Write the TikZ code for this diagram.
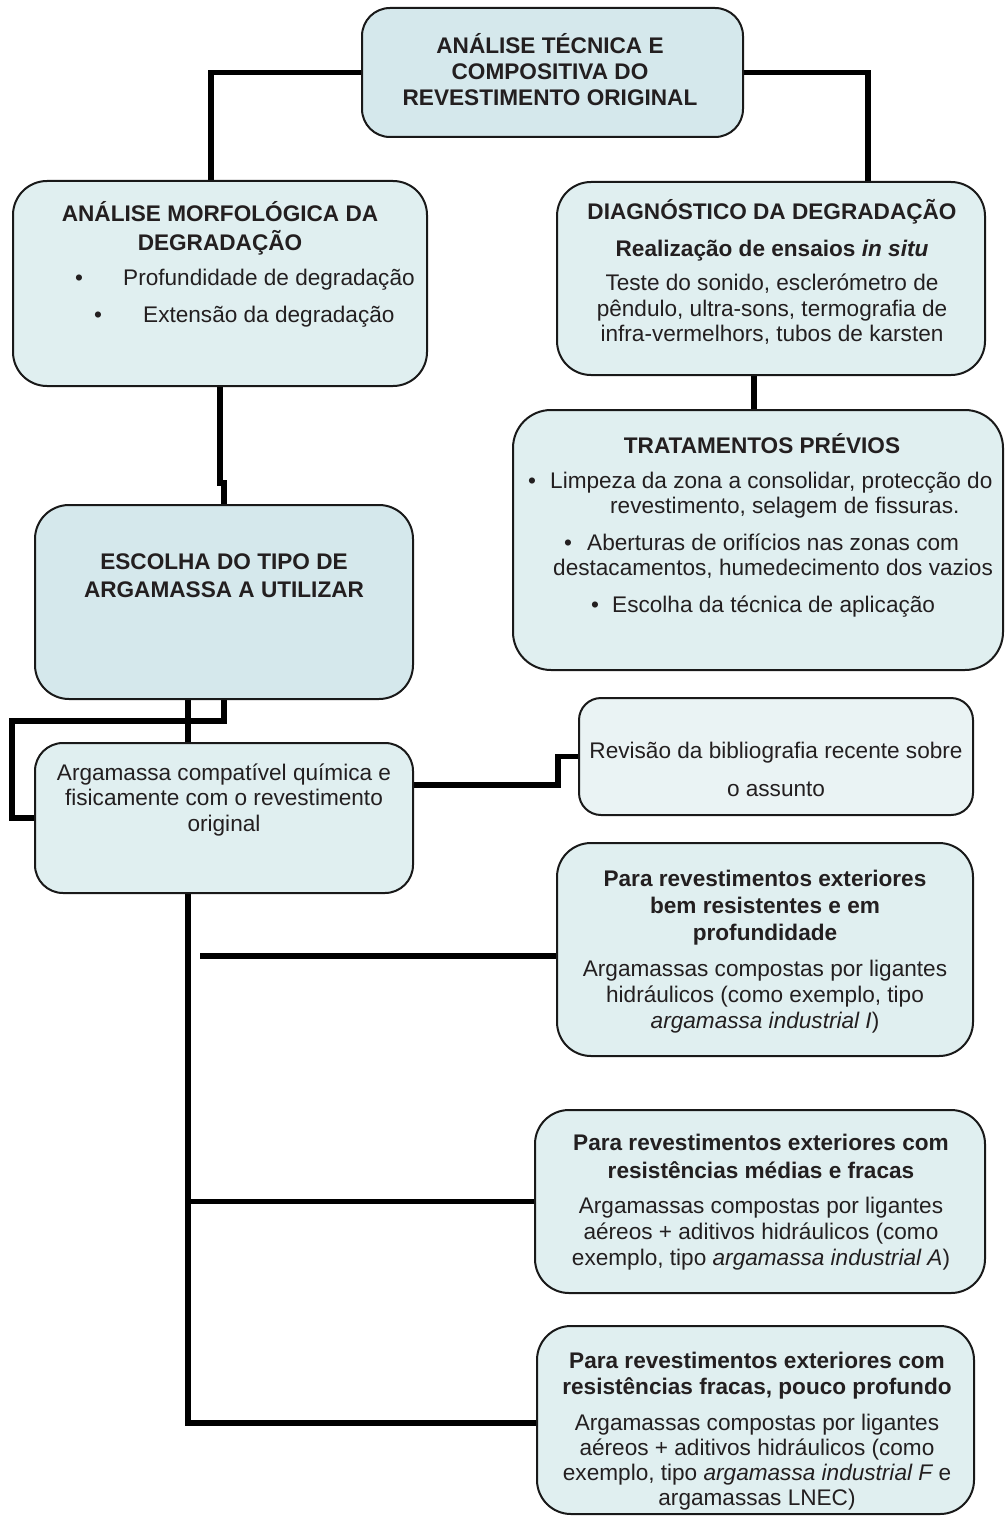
\documentclass[tikz,border=0pt]{standalone}
\usepackage{fontspec}
\setmainfont{Liberation Sans}
\usetikzlibrary{calc}
\definecolor{boxdark}{RGB}{213,232,236}
\definecolor{boxmid}{RGB}{224,239,240}
\definecolor{boxlight}{RGB}{234,243,244}
\definecolor{ink}{RGB}{35,31,32}
\definecolor{edge}{RGB}{25,25,25}

\begin{document}
\begin{tikzpicture}[x=1pt,y=-1pt,
  box/.style={draw=edge, line width=2pt, rounded corners=#1, fill=boxmid,
              inner sep=0pt, outer sep=0pt},
  box/.default=32pt,
  link/.style={line width=5.8pt, black},
  txt/.style={inner sep=0pt, anchor=base, text=ink,
              font=\fontsize{22.6}{26}\selectfont},
  lft/.style={txt, anchor=base west}
]
\fill[white] (0,0) rectangle (1004,1517);
\useasboundingbox (0,0) rectangle (1004,1517);

% ---------- boxes (positions only) ----------
\path
  (552.5,72.5)  coordinate (c-top)
  (220,283.5)   coordinate (c-morf)
  (771,278.5)   coordinate (c-diag)
  (758,540)     coordinate (c-trat)
  (224,602)     coordinate (c-esc)
  (224,818)     coordinate (c-arg)
  (776,756.5)   coordinate (c-rev)
  (765,949.5)   coordinate (c-p1)
  (760,1201.5)  coordinate (c-p2)
  (755.5,1420)  coordinate (c-p3);

% invisible placeholders so connectors can be drawn beneath the boxes
\begin{scope}[every node/.style={inner sep=0pt, outer sep=0pt}]
\node[minimum width=381pt, minimum height=129pt] (top)  at (c-top)  {};
\node[minimum width=414pt, minimum height=205pt] (morf) at (c-morf) {};
\node[minimum width=428pt, minimum height=193pt] (diag) at (c-diag) {};
\node[minimum width=490pt, minimum height=260pt] (trat) at (c-trat) {};
\node[minimum width=378pt, minimum height=194pt] (esc)  at (c-esc)  {};
\node[minimum width=378pt, minimum height=150pt] (arg)  at (c-arg)  {};
\node[minimum width=394pt, minimum height=117pt] (rev)  at (c-rev)  {};
\node[minimum width=416pt, minimum height=213pt] (p1)   at (c-p1)   {};
\node[minimum width=450pt, minimum height=183pt] (p2)   at (c-p2)   {};
\node[minimum width=437pt, minimum height=188pt] (p3)   at (c-p3)   {};
\end{scope}

% ---------- connectors ----------
\draw[link] (top.west) -| ([xshift=-9pt]morf.north);
\draw[link] (top.east) -| ([xshift=97pt]diag.north);
\draw[link] ([xshift=-17pt]diag.south) -- ([xshift=-17pt]diag.south |- trat.north);
\draw[link] (morf.south) -- ++(0,97) -| (esc.north);
\draw[link] ([xshift=-36pt]esc.south) -- ([xshift=-36pt]arg.north);
\coordinate (loopL) at (12,721);
\draw[link] (esc.south) |- (loopL) |- (arg.west);
\draw[link] ([yshift=33pt]arg.east) -- ++(145,0) |- (rev.west);
\coordinate (spine) at ([xshift=-36pt]arg.south);
\draw[link] (spine) |- ([yshift=-3pt]p3.west);
\draw[link] (spine |- p2.west) -- (p2.west);
\coordinate (b1end) at ([yshift=-6.5pt]p1.west);
\coordinate (b1start) at ($(spine |- b1end)+(12,0)$);
\draw[link] (b1start) -- (b1end);

% ---------- box outlines ----------
\draw[box=28pt, fill=boxdark] (top.south west) rectangle (top.north east);
\draw[box=34pt] (morf.south west) rectangle (morf.north east);
\draw[box=34pt] (diag.south west) rectangle (diag.north east);
\draw[box=38pt] (trat.south west) rectangle (trat.north east);
\draw[box=34pt, fill=boxdark] (esc.south west) rectangle (esc.north east);
\draw[box=28pt] (arg.south west) rectangle (arg.north east);
\draw[box=22pt, fill=boxlight] (rev.south west) rectangle (rev.north east);
\draw[box=34pt] (p1.south west) rectangle (p1.north east);
\draw[box=34pt] (p2.south west) rectangle (p2.north east);
\draw[box=34pt] (p3.south west) rectangle (p3.north east);

% ---------- texts ----------
% top
\node[txt] (top-a) at (550,54)  {\bfseries ANÁLISE TÉCNICA E};
\node[txt] (top-b) at (550,80)  {\bfseries COMPOSITIVA DO};
\node[txt] (top-c) at (550,106) {\bfseries REVESTIMENTO ORIGINAL};

% morphological analysis
\node[txt] (morf-a) at (220,222) {\bfseries ANÁLISE MORFOLÓGICA DA};
\node[txt] (morf-b) at (220,250) {\bfseries DEGRADAÇÃO};
\node[txt] (morf-d1) at (79,285) {\textbullet};
\node[lft] (morf-i1) at (123,285) {Profundidade de degradação};
\node[txt] (morf-d2) at (98,322) {\textbullet};
\node[lft] (morf-i2) at (143,322) {Extensão da degradação};

% diagnosis
\node[txt] (diag-a) at (772,219) {\bfseries DIAGNÓSTICO DA DEGRADAÇÃO};
\node[txt] (diag-b) at (772,256) {\bfseries Realização de ensaios \itshape in situ};
\node[txt] (diag-c) at (772,290) {Teste do sonido, esclerómetro de};
\node[txt] (diag-d) at (772,316) {pêndulo, ultra-sons, termografia de};
\node[txt] (diag-e) at (772,341) {infra-vermelhors, tubos de karsten};

% preliminary treatments
\node[txt] (trat-a) at (762,453) {\bfseries TRATAMENTOS PRÉVIOS};
\node[txt] (trat-d1) at (532,488) {\textbullet};
\node[lft] (trat-i1a) at (550,488) {Limpeza da zona a consolidar, protecção do};
\node[lft] (trat-i1b) at (610,513) {revestimento, selagem de fissuras.};
\node[txt] (trat-d2) at (568,550) {\textbullet};
\node[lft] (trat-i2a) at (587,550) {Aberturas de orifícios nas zonas com};
\node[lft] (trat-i2b) at (553,575) {destacamentos, humedecimento dos vazios};
\node[txt] (trat-d3) at (595,612) {\textbullet};
\node[lft] (trat-i3) at (612,612) {Escolha da técnica de aplicação};

% mortar choice
\node[txt] (esc-a) at (224,569) {\bfseries ESCOLHA DO TIPO DE};
\node[txt] (esc-b) at (224,597) {\bfseries ARGAMASSA A UTILIZAR};

% compatible mortar
\node[txt] (arg-a) at (224,780) {Argamassa compatível química e};
\node[txt] (arg-b) at (224,805) {fisicamente com o revestimento};
\node[txt] (arg-c) at (224,831) {original};

% literature review
\node[txt] (rev-a) at (776,758) {Revisão da bibliografia recente sobre};
\node[txt] (rev-b) at (776,796) {o assunto};

% option 1
\node[txt] (p1-a) at (765,886)  {\bfseries Para revestimentos exteriores};
\node[txt] (p1-b) at (765,913)  {\bfseries bem resistentes e em};
\node[txt] (p1-c) at (765,940)  {\bfseries profundidade};
\node[txt] (p1-d) at (765,976)  {Argamassas compostas por ligantes};
\node[txt] (p1-e) at (765,1002) {hidráulicos (como exemplo, tipo};
\node[txt] (p1-f) at (765,1028) {{\itshape argamassa industrial I})};

% option 2
\node[txt] (p2-a) at (761,1150) {\bfseries Para revestimentos exteriores com};
\node[txt] (p2-b) at (761,1178) {\bfseries resistências médias e fracas};
\node[txt] (p2-c) at (761,1213) {Argamassas compostas por ligantes};
\node[txt] (p2-d) at (761,1239) {aéreos + aditivos hidráulicos (como};
\node[txt] (p2-e) at (761,1265) {exemplo, tipo {\itshape argamassa industrial A})};

% option 3
\node[txt] (p3-a) at (757,1368) {\bfseries Para revestimentos exteriores com};
\node[txt] (p3-b) at (757,1394) {\bfseries resistências fracas, pouco profundo};
\node[txt] (p3-c) at (757,1430) {Argamassas compostas por ligantes};
\node[txt] (p3-d) at (757,1455) {aéreos + aditivos hidráulicos (como};
\node[txt] (p3-e) at (757,1480) {exemplo, tipo {\itshape argamassa industrial F} e};
\node[txt] (p3-f) at (757,1505) {argamassas LNEC)};
\end{tikzpicture}
\end{document}
